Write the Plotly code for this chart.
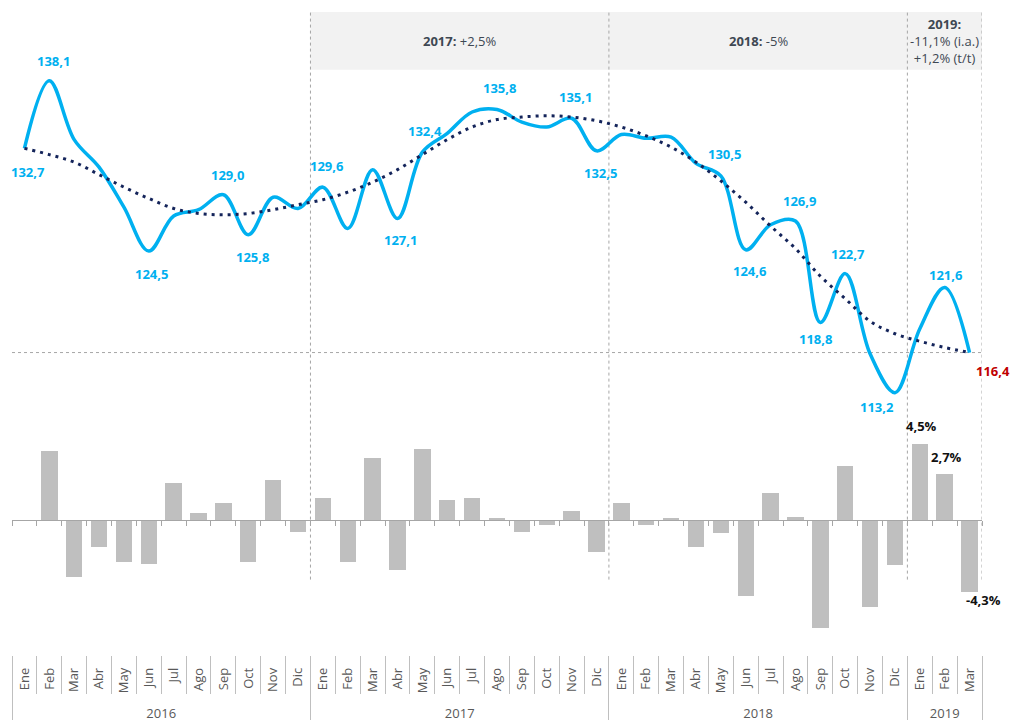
import plotly.graph_objects as go

# months Ene 2016 .. Mar 2019
months = ['Ene', 'Feb', 'Mar', 'Abr', 'May', 'Jun', 'Jul', 'Ago', 'Sep', 'Oct', 'Nov', 'Dic'] * 3 + ['Ene', 'Feb', 'Mar']
years = ['2016', '2017', '2018', '2019']
year_lengths = [12, 12, 12, 3]
year_notes = ['', '<b>2017:</b> +2,5%', '<b>2018:</b> -5%',
              '<b>2019:</b><br>-11,1% (i.a.)<br>+1,2% (t/t)']

index_values = [
    132.7, 138.1, 133.4, 131.2, 128.0, 124.5, 127.3, 127.8, 129.0, 125.8, 128.8, 127.9,
    129.6, 126.3, 131.0, 127.1, 132.4, 133.9, 135.6, 135.8, 134.8, 134.4, 135.1, 132.5,
    133.8, 133.5, 133.6, 131.5, 130.5, 124.6, 126.6, 126.9, 118.8, 122.7, 116.3, 113.2,
    118.3, 121.6, 116.4,
]
trend_values = [
    132.7, 132.2, 131.6, 130.6, 129.6, 128.7, 127.9, 127.5, 127.4, 127.5, 127.8, 128.2,
    128.6, 129.2, 130.0, 131.0, 132.2, 133.4, 134.4, 135.0, 135.2, 135.3, 135.2, 134.9,
    134.4, 133.7, 132.8, 131.6, 130.1, 128.4, 126.5, 124.7, 122.5, 120.7, 118.9, 117.9,
    117.3, 116.8, 116.4,
]
monthly_change = [
    None, 4.1, -3.4, -1.6, -2.5, -2.6, 2.2, 0.4, 1.0, -2.5, 2.4, -0.7,
    1.3, -2.5, 3.7, -3.0, 4.2, 1.2, 1.3, 0.1, -0.7, -0.3, 0.5, -1.9,
    1.0, -0.3, 0.1, -1.6, -0.8, -4.5, 1.6, 0.2, -6.4, 3.2, -5.2, -2.7,
    4.5, 2.7, -4.3,
]

x = list(range(len(months)))

# which points get a value label, and how the label is nudged (px)
line_labels = {
    0: (4, -24), 1: (4, 20), 5: (3, -23), 8: (4, 20), 9: (4, -22), 12: (4, 21),
    15: (3, -22), 16: (3, 21), 19: (2, 22), 22: (4, 21), 23: (4, -22), 28: (4, 22),
    29: (4, -21), 31: (4, 20), 32: (-5, -17), 33: (3, 20), 35: (-18, -14), 37: (1, 12),
}
bar_labels = {36: (2, 18), 37: (2, 17), 38: (14, -8)}

W, H = 1011, 722
BLUE = '#00b0f0'
NAVY = '#14245a'
GREY = '#bfbfbf'
FONT = 'Open Sans'


def py(px):
    # pixel row -> paper fraction
    return 1 - px / H


def fmt(v, pct=False):
    return f'{v:.1f}'.replace('.', ',') + ('%' if pct else '')


bounds = [-0.5]
for n in year_lengths:
    bounds.append(bounds[-1] + n)
year_centers = [(a + b) / 2 for a, b in zip(bounds[:-1], bounds[1:])]
month_bounds = [i - 0.5 for i in range(len(months) + 1)]

fig = go.Figure()
fig.add_trace(go.Bar(
    x=x, y=monthly_change, yaxis='y2', marker=dict(color=GREY, line=dict(width=0)),
    width=0.66, hoverinfo='skip',
))
fig.add_trace(go.Scatter(
    x=x, y=index_values, mode='lines', line=dict(color=BLUE, width=3.5, shape='spline'),
))
fig.add_trace(go.Scatter(
    x=x, y=trend_values, mode='lines',
    line=dict(color=NAVY, width=3, shape='spline', dash='3px,5px'),
))
# empty traces so the extra label / separator axes get drawn
for ax in ['x2', 'x3', 'x4', 'x5']:
    fig.add_trace(go.Scatter(x=x, y=[None] * len(x), xaxis=ax, mode='lines', hoverinfo='skip'))

# grey header band and year separators
fig.add_shape(type='rect', xref='x', yref='paper', x0=bounds[1], x1=bounds[-1],
              y0=py(70), y1=py(12), fillcolor='#f2f2f2', line_width=0, layer='below')
for b in bounds[1:]:
    fig.add_shape(type='line', xref='x', yref='paper', x0=b, x1=b, y0=py(582), y1=py(12),
                  line=dict(color='#a6a6a6', width=1, dash='dot'), layer='below')
fig.add_shape(type='line', xref='x', yref='y', x0=bounds[0], x1=bounds[-1],
              y0=index_values[-1], y1=index_values[-1],
              line=dict(color='#a6a6a6', width=1, dash='3px,3px'), layer='below')

for c, note in zip(year_centers, year_notes):
    if note:
        fig.add_annotation(x=c, xref='x', y=py(41), yref='paper', yanchor='middle', text=note,
                           showarrow=False, align='center',
                           font=dict(family=FONT, size=13, color='#3e4853'))

for i, (dx, dy) in line_labels.items():
    fig.add_annotation(x=x[i], y=index_values[i], text=f'<b>{fmt(index_values[i])}</b>',
                       showarrow=False, xshift=dx, yshift=dy,
                       font=dict(family=FONT, size=13, color=BLUE))
fig.add_annotation(x=x[-1], y=index_values[-1], text=f'<b>{fmt(index_values[-1])}</b>',
                   showarrow=False, xshift=23, yshift=-18,
                   font=dict(family=FONT, size=13, color='#c00000'))
for i, (dx, dy) in bar_labels.items():
    fig.add_annotation(x=x[i], y=monthly_change[i], yref='y2',
                       text=f'<b>{fmt(monthly_change[i], True)}</b>',
                       showarrow=False, xshift=dx, yshift=dy,
                       font=dict(family=FONT, size=13, color='#111111'))

dom = [12 / W, 982 / W]
rng = [-0.5, len(months) - 0.5]
base = dict(domain=dom, range=rng, showgrid=False, zeroline=False, fixedrange=True)

fig.update_layout(
    width=W, height=H, autosize=False,
    margin=dict(l=0, r=0, t=0, b=0),
    paper_bgcolor='white', plot_bgcolor='white',
    showlegend=False, bargap=0, hovermode=False,
    font=dict(family=FONT, color='#595959'),
    xaxis=dict(**base, anchor='free', position=py(522), showline=True, linecolor='#a6a6a6',
               ticks='outside', ticklen=5, tickcolor='#a6a6a6', tickvals=month_bounds,
               showticklabels=False),
    xaxis2=dict(**base, overlaying='x', anchor='free', position=py(667), tickvals=x,
                ticktext=months, tickangle=-90, ticks='', showline=False,
                tickfont=dict(family=FONT, size=13, color='#595959')),
    xaxis3=dict(**base, overlaying='x', anchor='free', position=py(658), tickvals=month_bounds,
                ticks='outside', ticklen=38, tickcolor=GREY, showticklabels=False, showline=False),
    xaxis4=dict(**base, overlaying='x', anchor='free', position=py(658), tickvals=bounds,
                ticks='outside', ticklen=64, tickcolor=GREY, showticklabels=False, showline=False),
    xaxis5=dict(**base, overlaying='x', anchor='free', position=py(707), tickvals=year_centers,
                ticktext=years, ticks='', showline=False,
                tickfont=dict(family=FONT, size=13, color='#595959')),
    # 116.4 sits on row 354, 12.58 px per point
    yaxis=dict(domain=[0, 1], range=[87.15, 144.54], visible=False, fixedrange=True),
    # zero on row 522, 16.9 px per percent point
    yaxis2=dict(overlaying='y', range=[-11.83, 30.89], visible=False, fixedrange=True),
)

# drop the default body margin so the 1011x722 figure fills the window exactly
fig.write_html('out.html', config={'displayModeBar': False},
               post_script="document.body.style.margin = '0'; document.body.style.overflow = 'hidden';")
